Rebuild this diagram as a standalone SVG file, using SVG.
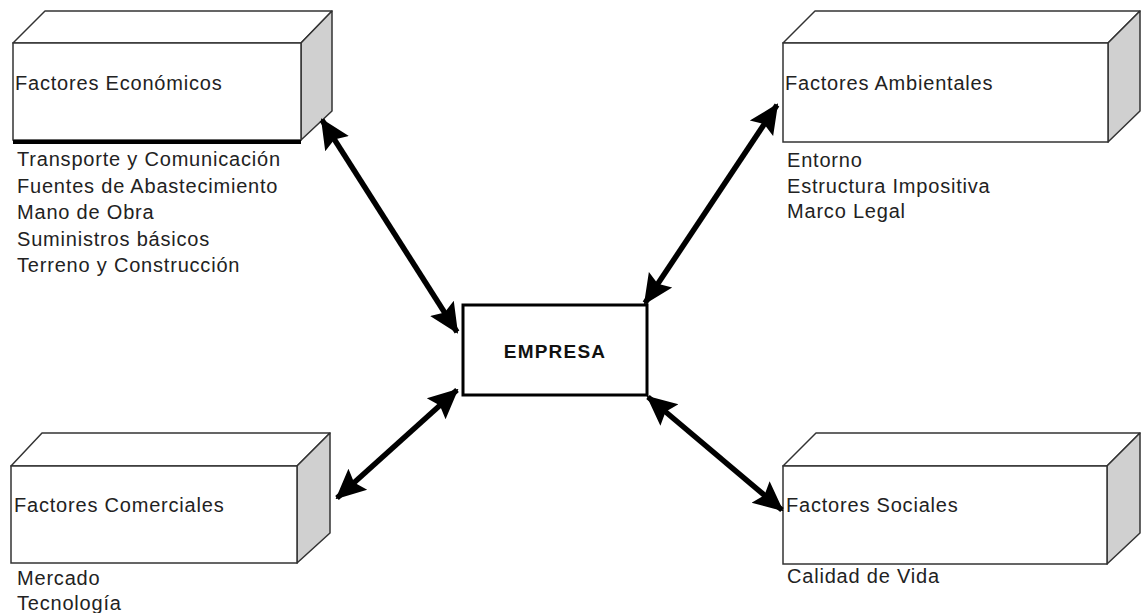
<svg xmlns="http://www.w3.org/2000/svg" width="1141" height="613" viewBox="0 0 1141 613">
<defs>
<style>
.front{fill:#fff;stroke:#333;stroke-width:1.5}
.top{fill:#fff;stroke:#333;stroke-width:1.5;stroke-linejoin:round}
.side{fill:#d0d0d0;stroke:#333;stroke-width:1.5;stroke-linejoin:round}
.t{font-family:"Liberation Sans",Arial,sans-serif;font-size:20px;fill:#222;letter-spacing:0.8px}
.b{font-family:"Liberation Sans",Arial,sans-serif;font-size:19px;font-weight:bold;fill:#111;letter-spacing:1.2px}
.c{stroke:#000;stroke-width:5.5;fill:none}
</style>
<marker id="ah" viewBox="0 0 30 30" refX="28" refY="15" markerWidth="30" markerHeight="30" orient="auto-start-reverse" markerUnits="userSpaceOnUse">
<path d="M0,1 L30,15 L0,29 L5,15 z" fill="#000"/>
</marker>
</defs>
<rect width="1141" height="613" fill="#fff"/>
<g id="economicos">
<polygon class="top" points="13,43 45,11 332,11 301,43"/>
<polygon class="side" points="301,43 332,11 332,111 301,140"/>
<rect class="front" x="13" y="43" width="288" height="97"/>
<line x1="13" y1="142" x2="301" y2="142" stroke="#000" stroke-width="4"/>
<text class="t" x="15" y="90">Factores Económicos</text>
<text class="t" x="17" y="166">Transporte y Comunicación</text>
<text class="t" x="17" y="193">Fuentes de Abastecimiento</text>
<text class="t" x="17" y="219">Mano de Obra</text>
<text class="t" x="17" y="246">Suministros básicos</text>
<text class="t" x="17" y="272">Terreno y Construcción</text>
</g>
<g id="ambientales">
<polygon class="top" points="783,43 815,11 1140,11 1108,43"/>
<polygon class="side" points="1108,43 1140,11 1140,111 1108,142"/>
<rect class="front" x="783" y="43" width="325" height="99"/>
<text class="t" x="785" y="90">Factores Ambientales</text>
<text class="t" x="787" y="167">Entorno</text>
<text class="t" x="787" y="193">Estructura Impositiva</text>
<text class="t" x="787" y="218">Marco Legal</text>
</g>
<g id="empresa">
<rect x="463" y="305" width="184" height="90" fill="#fff" stroke="#000" stroke-width="3"/>
<text class="b" x="555" y="358" text-anchor="middle">EMPRESA</text>
</g>
<g id="comerciales">
<polygon class="top" points="11,466 42,433 330,433 297,466"/>
<polygon class="side" points="297,466 330,433 330,533 297,563"/>
<rect class="front" x="11" y="466" width="286" height="97"/>
<text class="t" x="14" y="512">Factores Comerciales</text>
<text class="t" x="17" y="585">Mercado</text>
<text class="t" x="17" y="610">Tecnología</text>
</g>
<g id="sociales">
<polygon class="top" points="783,466 816,433 1140,433 1107,466"/>
<polygon class="side" points="1107,466 1140,433 1140,533 1107,564"/>
<rect class="front" x="783" y="466" width="324" height="98"/>
<text class="t" x="786" y="512">Factores Sociales</text>
<text class="t" x="787" y="583">Calidad de Vida</text>
</g>
<g id="connectors">
<line class="c" x1="322" y1="120" x2="457" y2="332" marker-start="url(#ah)" marker-end="url(#ah)"/>
<line class="c" x1="777" y1="105" x2="645" y2="303" marker-start="url(#ah)" marker-end="url(#ah)"/>
<line class="c" x1="457" y1="390" x2="337" y2="498" marker-start="url(#ah)" marker-end="url(#ah)"/>
<line class="c" x1="648" y1="397" x2="782" y2="510" marker-start="url(#ah)" marker-end="url(#ah)"/>
</g>
</svg>
